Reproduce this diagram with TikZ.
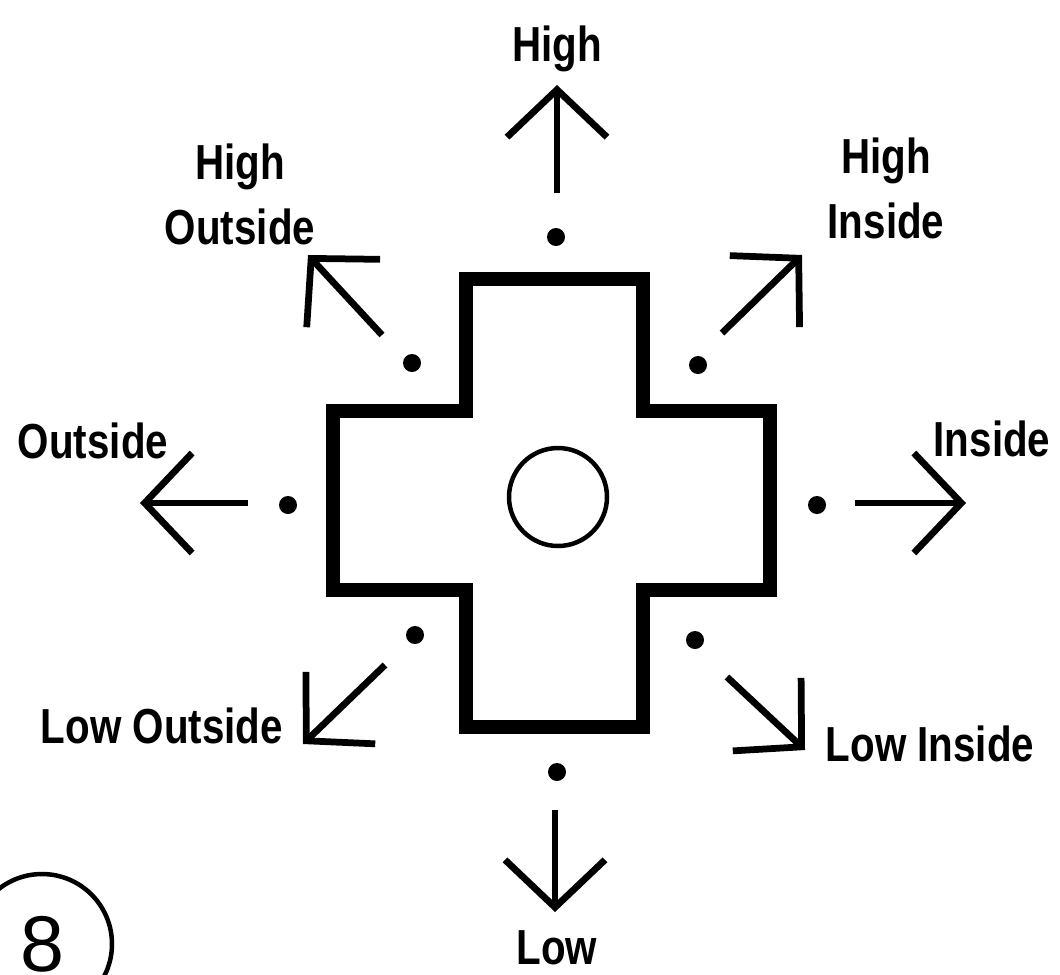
\documentclass[tikz,border=0pt]{standalone}
\usepackage{fontspec}
\usetikzlibrary{arrows.meta}
\newfontfamily\labfont[FakeStretch=0.82]{Liberation Sans}
\newfontfamily\numfont{Liberation Sans}
\newcommand{\spot}[2]{\node[pip] (#1) at (#2) {}}
\newcommand{\pointer}[3]{\coordinate (s#1) at (#2);
	\coordinate (t#1) at (#3);
	\draw[ptr] (s#1) -- (t#1)}
\newcommand{\lab}[3]{\node[word] (l#1) at (#2) {#3}}

\begin{document}
\begin{tikzpicture}[x=0.02cm, y=-0.02cm,
	epais/.style={line width=0.28cm, line join=miter},
	pip/.style={circle, fill=black, inner sep=0pt, minimum size=0.36cm},
	ptr/.style={line width=0.135cm, -{Straight Barb[length=0.95cm, width=2cm]}},
	word/.style={anchor=north, inner sep=0pt, align=center,
		font=\labfont\bfseries\fontsize{28}{37.5}\selectfont}]
\useasboundingbox (0,0) rectangle (1060,974);
%The plus shaped pad
	\draw[epais] (466,279) -- (643,279) -- (643,411) -- (770,411)
		-- (770,590) -- (643,590) -- (643,727) -- (466,727) -- (466,590)
		-- (333,590) -- (333,411) -- (466,411) -- cycle;
	\node[circle, draw, line width=0.09cm, minimum size=1.96cm, inner sep=0pt] (ring) at (558,497) {};
%The dots
	\spot{dN}{556,237};
	\spot{dNW}{412,363};
	\spot{dNE}{698,365};
	\spot{dW}{288,505};
	\spot{dE}{817,505};
	\spot{dSW}{415,635};
	\spot{dSE}{695,640};
	\spot{dS}{557,772};
%The arrows
	\pointer{N}{557,193}{557,85};
	\pointer{S}{555,810}{555,912};
	\pointer{W}{248,503}{140,503};
	\pointer{E}{855,503}{966,503};
	\pointer{NW}{382,335}{308,255};
	\pointer{NE}{722,333}{802,255};
	\pointer{SW}{385,665}{303,744};
	\pointer{SE}{727,677}{805,750};
%The labels
	\lab{N}{557,25}{High};
	\lab{NW}{240,143}{High\\Outside};
	\lab{NE}{886,137}{High\\Inside};
	\lab{W}{93,422}{Outside};
	\lab{E}{992,420}{Inside};
	\lab{SW}{162,707}{Low Outside};
	\lab{SE}{930,725}{Low Inside};
	\lab{S}{557,930}{Low};
%Page number
	\node[circle, draw, line width=0.09cm, minimum size=2.8cm, inner sep=0pt,
		font=\numfont\fontsize{45}{50}\selectfont] (page) at (42,944) {8};
\end{tikzpicture}
\end{document}
